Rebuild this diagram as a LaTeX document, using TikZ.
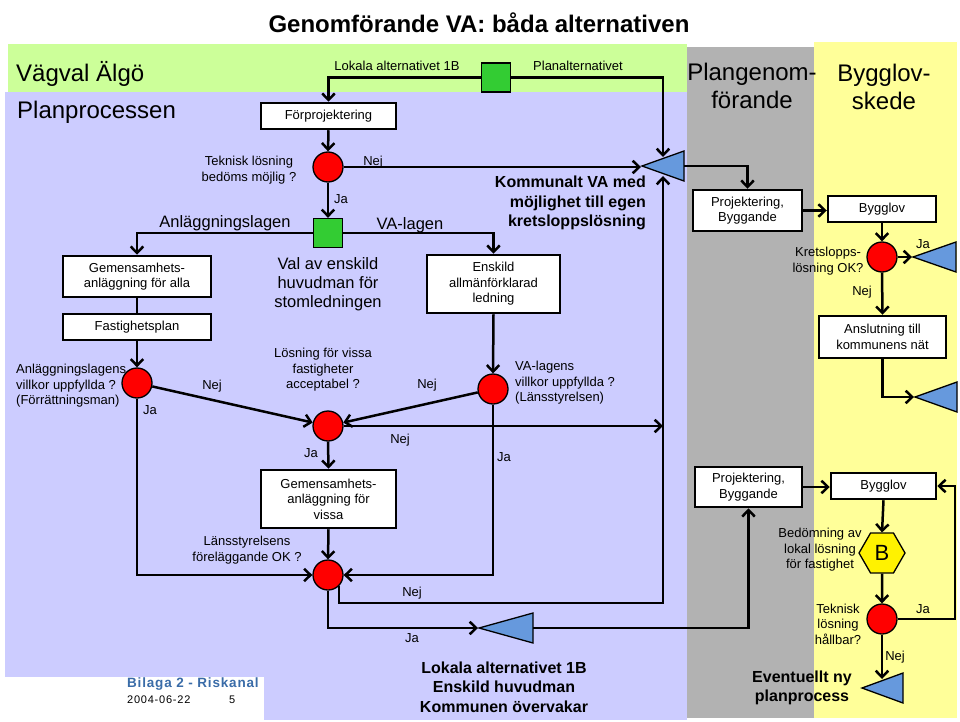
\documentclass[tikz,border=0pt]{standalone}
\usepackage{fontspec}
\setmainfont{Liberation Sans}
\usetikzlibrary{arrows.meta,shapes.geometric}
\definecolor{bgblue}{RGB}{204,204,255}
\definecolor{bggreen}{RGB}{204,255,153}
\definecolor{bggray}{RGB}{178,178,178}
\definecolor{bgyellow}{RGB}{255,255,153}
\definecolor{sqgreen}{RGB}{51,204,51}
\definecolor{triblue}{RGB}{102,153,221}
\definecolor{bilblue}{RGB}{58,108,168}
\newcommand\fsz[2]{\fontsize{#1}{#2}\selectfont}
\begin{document}
\begin{tikzpicture}[x=1pt,y=-1pt,
  flowbox/.style={draw, line width=2.5pt, fill=white, align=center, inner sep=0pt, font=\fsz{13}{15.5}},
  decision/.style={circle, draw, fill=red, line width=1.3pt, minimum size=30pt, inner sep=0pt},
  greensq/.style={draw, fill=sqgreen, line width=1.3pt, minimum size=29pt, inner sep=0pt},
  trishape/.style={draw, fill=triblue, line width=1.3pt, line join=miter},
  arr/.style={line width=2.5pt, -{Straight Barb[length=6.5pt,width=12.5pt]}},
  plainln/.style={line width=2.5pt},
  lab/.style={font=\fsz{13}{15.5}, inner sep=0pt, align=center},
  midtxt/.style={font=\fsz{16.5}{19}, inner sep=0pt, align=center},
  boldtxt/.style={font=\bfseries\fsz{16}{19.5}, inner sep=0pt, align=center},
  bigtxt/.style={font=\fsz{24}{28}, inner sep=0pt, align=center},
]
\useasboundingbox (0,0) rectangle (960,722);
% backgrounds
\fill[bgblue] (5,92) rectangle (687,720);
\fill[bggreen] (8,44) rectangle (687,92);
\fill[bggray] (687,47) rectangle (814,718);
\fill[bgyellow] (814,42) rectangle (957,718);
\fill[white] (0,677) rectangle (264,722);

% headers
\node[anchor=base, font=\bfseries\fsz{24}{28}, inner sep=0pt] (title) at (479,33) {Genomförande VA: båda alternativen};
\node[bigtxt, anchor=base west] (vagval) at (16,82) {Vägval Älgö};
\node[bigtxt, anchor=base west] (planproc) at (17,119) {Planprocessen};
\node[bigtxt] (plangen) at (752,86) {Plangenom-\\förande};
\node[bigtxt] (byggsk) at (884,87) {Bygglov-\\skede};

% top part
\node[lab] (lokala) at (397,66) {Lokala alternativet 1B};
\node[lab] (planalt) at (578,66) {Planalternativet};
\node[greensq] (sq1) at (496,77.5) {};
\node[flowbox, minimum width=135, minimum height=26] (forproj) at (328.5,116) {Förprojektering};
\node[lab] (tekn1) at (249,170) {Teknisk lösning\\bedöms möjlig ?};
\node[decision] (c1) at (328,167) {};
\node[lab] (nej1) at (373,162) {Nej};
\node[lab] (ja1) at (341,199) {Ja};
\node[greensq] (sq2) at (328,233) {};
\node[midtxt] (anllag) at (225,223) {Anläggningslagen};
\node[midtxt] (valagen) at (410,225) {VA-lagen};
\node[midtxt] (valav) at (328,284) {Val av enskild\\huvudman för\\stomledningen};
\node[boldtxt, anchor=east, align=right] (kommunalt) at (646,203) {Kommunalt VA med\\möjlighet till egen\\kretsloppslösning};

% left column
\node[flowbox, minimum width=148, minimum height=41] (gemalla) at (137,276.5) {Gemensamhets-\\anläggning för alla};
\node[flowbox, minimum width=148, minimum height=26] (fastplan) at (137,327) {Fastighetsplan};
\node[lab, anchor=west, align=left] (anlvill) at (16,386) {Anläggningslagens\\villkor uppfyllda ?\\(Förrättningsman)};
\node[decision] (c2) at (137,383) {};
\node[lab] (ja2) at (150,410) {Ja};
\node[lab] (nej2) at (212,386) {Nej};

% middle
\node[flowbox, minimum width=133, minimum height=58] (enskild) at (493.5,284) {Enskild\\allmänförklarad\\ledning};
\node[lab] (losning) at (323,370) {Lösning för vissa\\fastigheter\\acceptabel ?};
\node[decision] (c3) at (328,426) {};
\node[lab, anchor=west, align=left] (vavill) at (515,383) {VA-lagens\\villkor uppfyllda ?\\(Länsstyrelsen)};
\node[decision] (c4) at (493,389) {};
\node[lab] (nej3) at (427,385) {Nej};
\node[lab] (ja3) at (311,453) {Ja};
\node[lab] (nej4) at (400,440) {Nej};
\node[lab] (ja4) at (504,457) {Ja};
\node[flowbox, minimum width=135, minimum height=58] (gemvissa) at (328.5,499) {Gemensamhets-\\anläggning för\\vissa};
\node[lab] (lans) at (247,550) {Länsstyrelsens\\föreläggande OK ?};
\node[decision] (c5) at (328,575) {};
\node[lab] (nej5) at (412,593) {Nej};
\node[lab] (ja5) at (412,638) {Ja};
\node[boldtxt] (lokbold) at (504,687) {Lokala alternativet 1B\\Enskild huvudman\\Kommunen övervakar};

% right part top
\node[flowbox, minimum width=109, minimum height=41] (proj1) at (747.5,210.5) {Projektering,\\Byggande};
\node[flowbox, minimum width=108, minimum height=26] (bygg1) at (882,209) {Bygglov};
\node[lab] (krets) at (828,261) {Kretslopps-\\lösning OK?};
\node[decision] (c6) at (882,257) {};
\node[lab] (ja6) at (923,244) {Ja};
\node[lab] (nej6) at (862,292) {Nej};
\node[flowbox, minimum width=127, minimum height=42] (anslut) at (882.5,337) {Anslutning till\\kommunens nät};

% right part bottom
\node[flowbox, minimum width=107, minimum height=40] (proj2) at (748.5,487) {Projektering,\\Byggande};
\node[flowbox, minimum width=105, minimum height=26] (bygg2) at (883.5,486) {Bygglov};
\node[lab] (bedom) at (820,550) {Bedömning av\\lokal lösning\\för fastighet};
\node[regular polygon, regular polygon sides=6, draw, fill=yellow, line width=1.3pt, minimum size=46pt, inner sep=0pt, font=\fsz{22}{26}] (hexB) at (882,553) {B};
\node[lab] (tekn2) at (838,624) {Teknisk\\lösning\\hållbar?};
\node[decision] (c7) at (882,619) {};
\node[lab] (ja7) at (923,609) {Ja};
\node[lab] (nej7) at (895,657) {Nej};
\node[boldtxt] (event) at (802,688) {Eventuellt ny\\planprocess};

% footer
\node[anchor=west, inner sep=0pt, text=bilblue, font=\bfseries\fsz{13.5}{16}\addfontfeatures{LetterSpace=6}] (bilaga) at (127,684) {Bilaga 2 - Riskanal};
\node[anchor=west, inner sep=0pt, font=\fsz{11}{13}\addfontfeatures{LetterSpace=7}] (datum) at (127,700) {2004-06-22};
\node[anchor=west, inner sep=0pt, font=\fsz{11}{13}] (sida) at (229,700) {5};

% triangles
\filldraw[trishape] (642,166) -- (684,151) -- (684,181) -- cycle;
\filldraw[trishape] (913,257) -- (956,242) -- (956,272) -- cycle;
\filldraw[trishape] (915,397) -- (957,382) -- (957,412) -- cycle;
\filldraw[trishape] (479,628) -- (533,613) -- (533,643) -- cycle;
\filldraw[trishape] (862,688) -- (903,673) -- (903,703) -- cycle;
\coordinate (t1tip) at (641,167);
\coordinate (t1base) at (684,166);
\coordinate (t1top) at (663,157);
\coordinate (t1bot) at (663,176);
\coordinate (t2tip) at (912,257);
\coordinate (t3tip) at (914,397);
\coordinate (t4tip) at (478,628);
\coordinate (t4base) at (533,628);
\coordinate (t5top) at (882,679);
\coordinate (vl) at (663,603);
\coordinate (rc) at (955,550);

% connectors
\draw[arr] (sq1.west) -| (forproj.north);
\draw[arr] (sq1.east) -| (t1top);
\draw[arr] (forproj.south) -- (c1.north);
\draw[arr] (c1.east) -- (t1tip);
\draw[arr] (c1.south) -- (sq2.north);
\draw[arr] (sq2.west) -| (gemalla.north);
\draw[arr] (sq2.east) -| (enskild.north);
\draw[plainln] (gemalla.south) -- (fastplan.north);
\draw[arr] (fastplan.south) -- (c2.north);
\draw[arr] (c2) -- (c3);
\draw[arr] (c2.south) |- (c5.west);
\draw[arr] (c3.south) -- (gemvissa.north);
\draw[arr] (gemvissa.south) -- (c5.north);
\draw[arr] (c3.east) -- (c3.east -| vl);
\draw[arr] (enskild.south) -- (c4.north);
\draw[arr] (c4) -- (c3);
\draw[arr] (c4.south) |- (c5.east);
\draw[arr] (c5.south east) |- (vl) -- (t1bot);
\draw[arr] (c5.south) |- (t4tip);
\draw[arr] (t4base) -| (proj2.south);
\draw[arr] (t1base) -| (proj1.north);
\draw[arr] (proj1.east) -- (proj1.east -| bygg1.west);
\draw[arr] (bygg1.south) -- (c6.north);
\draw[arr] (c6.east) -- (t2tip);
\draw[arr] (c6.south) -- (anslut.north);
\draw[arr] (anslut.south) |- (t3tip);
\draw[arr] (proj2.east) -- (proj2.east -| bygg2.west);
\draw[arr] (bygg2.south) -- (hexB.north);
\draw[arr] (hexB.south) -- (c7.north);
\draw[arr] (c7.east) -- (c7.east -| rc) -- (rc |- bygg2.east) -- (bygg2.east);
\draw[arr] (c7.south) -- (t5top);
\end{tikzpicture}
\end{document}
